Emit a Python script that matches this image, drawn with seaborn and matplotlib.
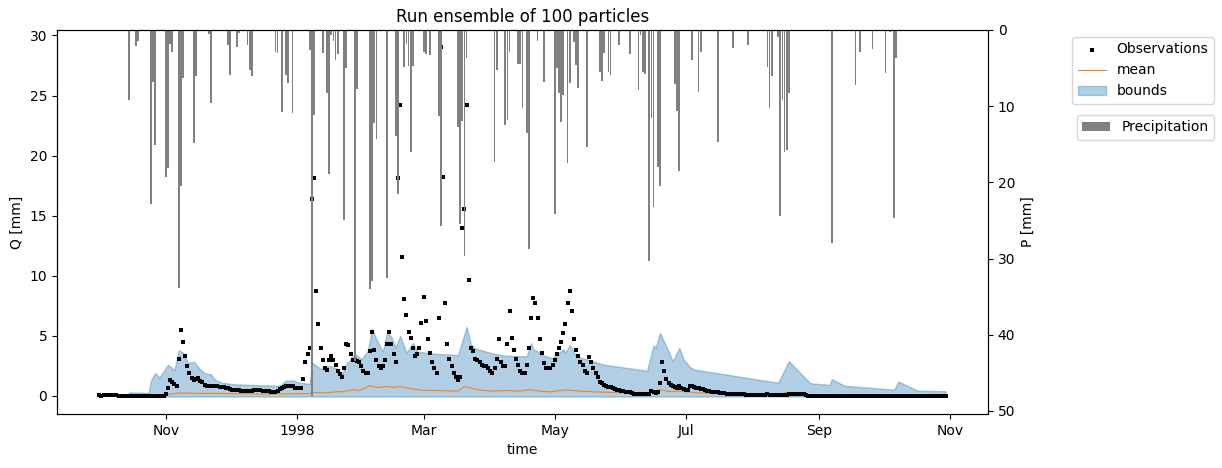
import pandas as pd
import matplotlib
matplotlib.use('Agg')
import matplotlib.pyplot as plt
import matplotlib.dates as mdates
import seaborn as sns

start = pd.Timestamp('1997-10-01')

# daily observed discharge [mm], from 1997-10-01
obs_q = [
    0.08, 0.02, 0.08, 0.08, 0.08, 0.08, 0.07, 0.07, 0.06, 0.02,
    0.02, 0.02, 0.02, 0.02, 0.02, 0.02, 0.02, 0.02, 0.02, 0.02,
    0.02, 0.02, 0.02, 0.02, 0.02, 0.02, 0.02, 0.02, 0.02, 0.02,
    0.02, 0.15, 0.63, 1.3, 1.13, 1.0, 0.83, 3.1, 5.5, 4.45,
    3.3, 2.5, 1.9, 1.47, 1.3, 1.38, 1.47, 1.25, 1.13, 0.94,
    0.85, 0.84, 0.83, 0.82, 0.8, 0.79, 0.77, 0.75, 0.72, 0.68,
    0.62, 0.57, 0.52, 0.5, 0.48, 0.46, 0.44, 0.42, 0.4, 0.39,
    0.42, 0.45, 0.46, 0.47, 0.47, 0.46, 0.44, 0.42, 0.4, 0.38,
    0.36, 0.34, 0.33, 0.4, 0.55, 0.65, 0.75, 0.83, 0.85, 0.85,
    0.85, 0.7, 0.65, 0.65, 0.65, 1.4, 2.8, 3.5, 3.95, 16.4,
    18.1, 8.75, 6.0, 4.0, 2.95, 2.3, 2.2, 2.95, 3.3, 2.95,
    2.6, 2.1, 1.8, 1.55, 2.3, 4.35, 4.2, 3.45, 2.95, 2.95,
    2.9, 2.8, 2.45, 2.1, 1.95, 1.9, 3.7, 5.35, 3.85, 2.95,
    2.45, 2.3, 2.45, 2.95, 4.35, 5.35, 4.35, 3.45, 2.85, 18.1,
    24.25, 11.55, 8.1, 6.75, 5.35, 4.85, 3.95, 3.35, 3.5, 4.0,
    6.1, 8.2, 6.2, 4.7, 3.6, 2.85, 2.3, 1.95, 6.5, 29.0,
    18.25, 7.7, 4.35, 3.1, 2.45, 1.95, 1.6, 1.3, 1.6, 14.0,
    15.55, 24.25, 9.65, 4.0, 3.7, 3.1, 2.95, 2.8, 2.6, 2.5,
    2.45, 2.3, 2.1, 1.95, 2.3, 3.1, 4.75, 2.85, 2.45, 2.45,
    4.35, 7.1, 4.85, 3.8, 3.1, 2.6, 2.1, 1.9, 1.9, 2.6,
    3.95, 6.5, 8.15, 7.7, 6.5, 4.7, 3.55, 2.7, 2.3, 2.3,
    2.3, 2.6, 2.95, 3.45, 3.95, 4.5, 5.2, 6.0, 7.7, 8.75,
    7.1, 4.7, 3.8, 3.35, 2.85, 2.55, 2.05, 1.95, 3.2, 2.85,
    2.3, 1.9, 1.55, 1.2, 1.05, 0.9, 0.8, 0.72, 0.72, 0.65,
    0.55, 0.47, 0.47, 0.4, 0.4, 0.3, 0.3, 0.3, 0.23, 0.2,
    0.2, 0.2, 0.2, 0.2, 0.2, 0.2, 0.2, 0.4, 0.3, 0.25,
    0.3, 1.1, 2.8, 2.05, 1.45, 1.1, 0.95, 0.8, 0.72, 0.65,
    0.8, 0.62, 0.55, 0.47, 0.5, 0.85, 0.8, 0.72, 0.68, 0.65,
    0.58, 0.55, 0.47, 0.42, 0.4, 0.35, 0.3, 0.3, 0.3, 0.28,
    0.25, 0.22, 0.2, 0.18, 0.15, 0.15, 0.15, 0.13, 0.12, 0.12,
    0.12, 0.1, 0.1, 0.08, 0.05, 0.05, 0.05, 0.05, 0.05, 0.05,
    0.05, 0.15, 0.05, 0.05, 0.05, 0.05, 0.05, 0.05, 0.05, 0.05,
    0.05, 0.15, 0.15, 0.15, 0.15, 0.13, 0.13, 0.12, 0.12, 0.1,
    0.03, 0.03, 0.03, 0.03, 0.03, 0.03, 0.03, 0.03, 0.03, 0.03,
    0.03, 0.03, 0.03, 0.03, 0.03, 0.03, 0.03, 0.03, 0.03, 0.03,
    0.03, 0.03, 0.03, 0.03, 0.03, 0.03, 0.03, 0.03, 0.03, 0.03,
    0.03, 0.03, 0.03, 0.03, 0.03, 0.03, 0.03, 0.03, 0.03, 0.03,
    0.03, 0.03, 0.03, 0.03, 0.03, 0.03, 0.03, 0.03, 0.03, 0.03,
    0.03, 0.03, 0.03, 0.03, 0.03, 0.03, 0.03, 0.03, 0.03, 0.03,
    0.03, 0.03, 0.03, 0.03, 0.03,
]

# ensemble mean (day offset, mm)
mean_day = [0, 30, 31, 38, 45, 60, 80, 98, 99, 104, 111, 113, 118, 121, 126,
            129, 134, 137, 140, 145, 151, 157, 167, 170, 176, 183, 190, 196,
            200, 205, 210, 214, 218, 224, 232, 240, 248, 256, 261, 266, 270,
            276, 285, 290, 300, 316, 320, 326, 330, 394]
mean_q = [0.02, 0.03, 0.12, 0.25, 0.22, 0.2, 0.15, 0.2, 0.3, 0.25, 0.35, 0.35,
          0.52, 0.45, 0.85, 0.7, 0.78, 0.7, 0.78, 0.6, 0.47, 0.45, 0.4, 0.8,
          0.52, 0.4, 0.45, 0.4, 0.52, 0.4, 0.33, 0.45, 0.5, 0.4, 0.33, 0.28,
          0.23, 0.25, 0.52, 0.35, 0.4, 0.3, 0.2, 0.15, 0.1, 0.1, 0.3, 0.12,
          0.08, 0.08]

# ensemble bounds (day offset, mm)
bound_day = [13, 14, 23, 24, 26, 28, 32, 35, 37, 39, 41, 42, 44, 47, 49, 52,
             54, 57, 63, 73, 84, 87, 88, 90, 93, 98, 99, 103, 107, 111, 113,
             115, 119, 122, 125, 127, 129, 132, 134, 136, 138, 140, 143, 146,
             148, 152, 157, 167, 169, 171, 173, 175, 184, 189, 199, 201, 202,
             207, 211, 216, 217, 219, 222, 235, 255, 258, 259, 261, 267, 270,
             272, 275, 277, 316, 321, 331, 340, 341, 347, 370, 372, 381, 394]
bound_upper = [0.0, 0.3, 0.25, 1.25, 1.9, 1.55, 2.6, 2.15, 3.8, 3.6, 2.8, 2.75,
               2.85, 2.2, 1.9, 1.8, 1.33, 1.1, 0.97, 0.9, 0.85, 1.3, 1.25, 1.3,
               1.1, 1.0, 2.8, 2.25, 2.5, 2.25, 1.8, 2.65, 3.5, 3.05, 3.75, 5.6,
               4.7, 3.7, 5.3, 4.9, 4.0, 5.0, 3.6, 4.4, 3.7, 3.6, 3.5, 3.4, 4.6,
               5.75, 4.3, 3.95, 3.5, 3.35, 3.3, 4.4, 3.9, 3.35, 3.15, 3.9, 3.6,
               4.25, 3.3, 2.6, 2.1, 4.2, 4.0, 5.25, 2.9, 4.0, 3.05, 2.4, 2.2,
               1.1, 2.9, 1.05, 0.92, 1.4, 0.85, 0.52, 1.2, 0.44, 0.39]
bound_lower = -0.05

# precipitation (day offset, mm)
precip_day = [14, 17, 18, 24, 25, 26, 31, 32, 33, 34, 37, 38, 39, 44, 45, 51,
              52, 60, 61, 64, 65, 69, 70, 71, 82, 83, 85, 87, 88, 90, 98, 99,
              100, 104, 106, 107, 108, 109, 110, 111, 114, 115, 119, 120, 126,
              127, 128, 129, 134, 138, 139, 142, 143, 144, 145, 146, 151, 152,
              154, 158, 159, 167, 168, 169, 170, 171, 184, 185, 189, 190, 191,
              195, 196, 197, 199, 200, 204, 207, 212, 213, 214, 215, 216, 218,
              219, 221, 222, 223, 227, 233, 234, 235, 237, 238, 242, 247, 251,
              252, 253, 254, 256, 257, 258, 260, 261, 268, 269, 270, 276, 279,
              280, 288, 295, 302, 311, 312, 313, 316, 317, 318, 319, 320, 321,
              341, 352, 354, 360, 366, 368, 370, 371]
precip_mm = [9.2, 2.1, 1.5, 22.9, 6.8, 15.1, 19.3, 18.1, 1.9, 2.85, 33.8, 20.5,
             6.3, 14.8, 6.0, 0.5, 9.6, 2.0, 5.9, 2.2, 0.4, 2.0, 5.2, 6.0, 2.85,
             3.0, 10.75, 5.9, 6.9, 10.9, 2.6, 48.0, 11.2, 3.0, 8.25, 18.9, 0.7,
             1.5, 4.0, 3.2, 24.9, 5.0, 43.4, 7.7, 34.0, 32.9, 12.2, 14.3, 32.5,
             13.9, 21.5, 4.8, 1.9, 4.7, 16.0, 4.7, 2.85, 3.1, 3.3, 11.3, 25.7,
             12.7, 25.4, 11.9, 29.7, 3.7, 17.3, 5.3, 12.5, 11.8, 2.85, 4.4, 4.4,
             10.2, 13.5, 28.7, 1.5, 6.8, 24.1, 5.0, 8.25, 12.1, 8.5, 17.4, 6.9,
             1.6, 4.6, 7.55, 15.4, 5.5, 6.7, 3.0, 5.5, 5.9, 2.0, 3.2, 7.9, 0.6,
             5.5, 5.8, 30.3, 11.6, 23.2, 18.0, 20.5, 7.1, 10.6, 18.5, 3.9, 8.1,
             2.85, 14.7, 2.3, 2.0, 4.8, 10.2, 6.1, 0.9, 24.4, 9.2, 16.0, 15.7,
             8.25, 27.9, 7.2, 2.85, 2.5, 5.6, 0.3, 24.7, 3.7]

obs = pd.DataFrame({'time': pd.date_range(start, periods=len(obs_q), freq='D'),
                    'Q': obs_q})
mean = pd.DataFrame({'time': start + pd.to_timedelta(mean_day, unit='D'),
                     'Q': mean_q})
bound_time = start + pd.to_timedelta(bound_day, unit='D')
precip_time = start + pd.to_timedelta(precip_day, unit='D')

fig = plt.figure(figsize=(12.22, 4.68), dpi=100)
ax = fig.add_axes([0.0466, 0.1154, 0.7619, 0.8205])

sns.scatterplot(data=obs, x='time', y='Q', marker='s', s=5, color='black',
                linewidth=0, label='Observations', ax=ax, zorder=3)
sns.lineplot(data=mean, x='time', y='Q', color='C1', lw=0.8, label='mean',
             ax=ax, zorder=2)
ax.fill_between(bound_time, bound_lower, bound_upper, color='C0', alpha=0.35,
                label='bounds')

ax.set_title('Run ensemble of 100 particles')
ax.set_xlabel('time')
ax.set_ylabel('Q [mm]')

h, l = ax.get_legend_handles_labels()
ax.legend(h, l, loc='upper right', bbox_to_anchor=(1.2428, 0.982),
          borderaxespad=0)

# precipitation on inverted twin axis
ax2 = ax.twinx()
ax2.bar(precip_time, precip_mm, width=0.8, color='grey', label='Precipitation')
ax2.invert_yaxis()
ax2.set_ylabel('P [mm]')
ax2.legend(loc='upper right', bbox_to_anchor=(1.2428, 0.779), borderaxespad=0)

locator = mdates.MonthLocator(bymonth=[1, 3, 5, 7, 9, 11])
ax.xaxis.set_major_locator(locator)
ax.xaxis.set_major_formatter(mdates.ConciseDateFormatter(locator))

fig.savefig('out.png', dpi=100)
